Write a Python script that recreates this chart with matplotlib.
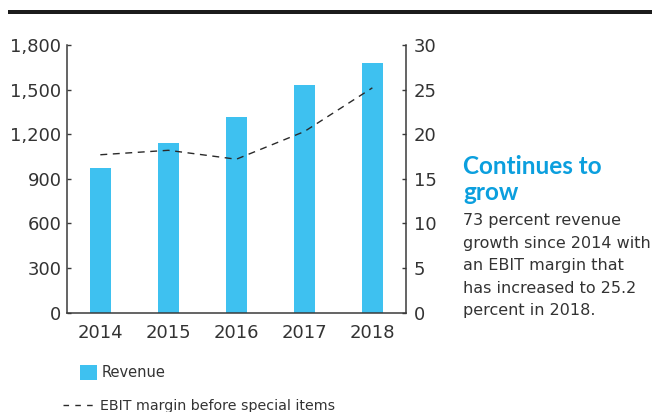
import matplotlib
matplotlib.use("Agg")
import matplotlib.pyplot as plt
from matplotlib.lines import Line2D
from matplotlib.patches import Patch, Rectangle
from matplotlib.ticker import FuncFormatter

# Revenue and EBIT margin by year
years = ["2014", "2015", "2016", "2017", "2018"]
revenue = [970, 1140, 1315, 1530, 1680]
ebit_margin = [17.7, 18.2, 17.2, 20.3, 25.2]

revenue_ticks = [0, 300, 600, 900, 1200, 1500, 1800]
margin_ticks = [0, 5, 10, 15, 20, 25, 30]

title_lines = ["Continues to", "grow"]
body_lines = ["73 percent revenue", "growth since 2014 with", "an EBIT margin that",
              "has increased to 25.2", "percent in 2018."]

BAR = "#3ec1f0"
TITLE = "#0b9fde"
INK = "#333333"
AXIS = "#3a3a3a"

plt.rcParams["font.family"] = ["DejaVu Sans"]

W, H = 652, 412
fig = plt.figure(figsize=(W / 100, H / 100), dpi=100)


def fx(px):
    return px / W


def fy(py):
    return 1 - py / H


# heavy rule across the top
fig.add_artist(Rectangle((fx(8), fy(14)), 1, 4 / H,
                         transform=fig.transFigure, color="#1c1c1c", lw=0))

ax = fig.add_axes([fx(67), fy(312.7), 338.7 / W, 267.7 / H])
x = list(range(len(years)))
ax.bar(x, revenue, width=0.31, color=BAR, zorder=2)
ax.set_xlim(-0.49, 4.49)
ax.set_ylim(0, 1800)
ax.set_yticks(revenue_ticks)
ax.yaxis.set_major_formatter(FuncFormatter(lambda v, p: f"{int(v):,}"))
ax.set_xticks(x)
ax.set_xticklabels(years)

ax2 = ax.twinx()
ax2.plot(x, ebit_margin, color="#2a2a2a", lw=1.0, ls=(0, (5, 4)), zorder=3)
ax2.set_ylim(0, 30)
ax2.set_yticks(margin_ticks)

for a in (ax, ax2):
    a.spines["top"].set_visible(False)
    for s in ("left", "right", "bottom"):
        a.spines[s].set_color(AXIS)
        a.spines[s].set_linewidth(1.1)
ax.spines["right"].set_visible(False)
ax2.spines["left"].set_visible(False)
ax2.spines["bottom"].set_visible(False)

ax.tick_params(axis="y", direction="in", length=3, width=1.0, color=AXIS,
               labelsize=13, labelcolor=INK, pad=4)
ax.tick_params(axis="x", length=0, labelsize=13, labelcolor=INK, pad=8)
ax2.tick_params(axis="y", direction="in", length=3, width=1.0, color=AXIS,
                labelsize=13, labelcolor=INK, pad=6)

# legend entries below the plot
fig.legend(handles=[Patch(facecolor=BAR, edgecolor="none", label="Revenue")],
           loc="upper left", bbox_to_anchor=(fx(80), fy(365)),
           frameon=False, fontsize=10.5, handlelength=1.15, handleheight=1.2,
           handletextpad=0.35, labelcolor=INK, borderpad=0, borderaxespad=0)
fig.legend(handles=[Line2D([0], [0], color="#2a2a2a", lw=1.0, ls=(0, (4, 4.5)),
                           label="EBIT margin before special items")],
           loc="upper left", bbox_to_anchor=(fx(63), fy(399)),
           frameon=False, fontsize=10.3, handlelength=2.2,
           handletextpad=0.4, labelcolor=INK, borderpad=0, borderaxespad=0)

# side note
for i, line in enumerate(title_lines):
    fig.text(fx(463), fy(174.3 + 25.7 * i), line, color=TITLE, fontsize=17.5,
             fontweight="bold", family=["Lato", "DejaVu Sans"],
             va="baseline", ha="left")
for i, line in enumerate(body_lines):
    fig.text(fx(463), fy(225 + 22.6 * i), line, color=INK, fontsize=11.5,
             va="baseline", ha="left")

fig.savefig("out.png", dpi=100)
